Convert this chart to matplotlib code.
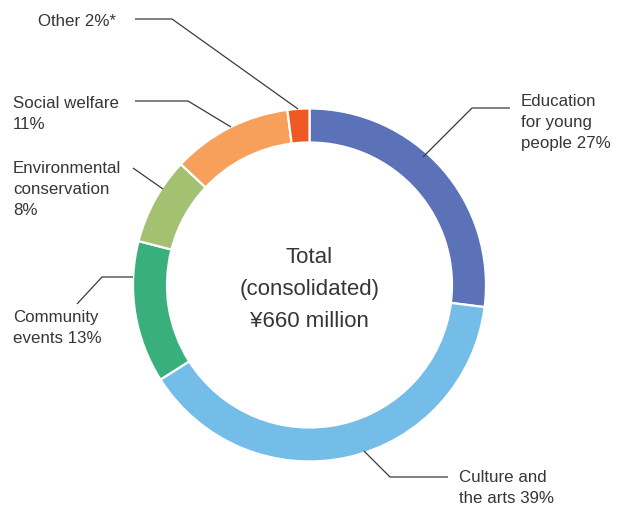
import matplotlib
matplotlib.use("Agg")
import matplotlib.pyplot as plt

# Donation breakdown (percent of total)
categories = ["Education\nfor young\npeople 27%", "Culture and\nthe arts 39%",
              "Community\nevents 13%", "Environmental\nconservation\n8%",
              "Social welfare\n11%", "Other 2%*"]
shares = [27, 39, 13, 8, 11, 2]
colors = ["#5B72B9", "#74BDE8", "#39B07C", "#A4C172", "#F6A05B", "#EF5A24"]
center_text = "Total\n(consolidated)\n¥660 million"

W, H = 627, 506
fig = plt.figure(figsize=(W / 100, H / 100), dpi=100)
ax = fig.add_axes([0, 0, 1, 1])

cx, cy, R = 309.5, H - 286, 176.5
ring = 34

ax.pie(shares, colors=colors, startangle=90, counterclock=False,
       center=(cx, cy), radius=R,
       wedgeprops=dict(width=ring, edgecolor="white", linewidth=1.6))

ax.set_xlim(0, W)
ax.set_ylim(0, H)
ax.set_aspect("equal")
ax.axis("off")

txt = "#363636"
font = "Liberation Sans"
fs = 12.2


def Y(y):
    return H - y


# leader lines (pixel coordinates, top-left origin)
leaders = [
    [(510, 109), (472, 109), (423, 158)],
    [(448, 478), (390, 478), (364, 452)],
    [(133, 278), (102, 278), (77, 305)],
    [(133, 169), (163, 190)],
    [(135, 102), (188, 102), (231, 128)],
    [(135, 20), (172, 20), (298, 110)],
]
for pts in leaders:
    ax.plot([p[0] for p in pts], [Y(p[1]) for p in pts], color="#3a3a3a",
            lw=0.9, solid_capstyle="butt")

# label anchors: (x, top y) in pixel coordinates
anchors = [(521, 94), (459, 470), (13, 310), (13, 161), (13, 96), (38, 14)]
for lab, (x, y) in zip(categories, anchors):
    ax.text(x, Y(y), lab, ha="left", va="top", fontsize=fs, color=txt,
            family=font, linespacing=1.5)

ax.text(cx, Y(289.5), center_text, ha="center", va="center", fontsize=16,
        color=txt, family=font, linespacing=1.68)

fig.savefig("out.png", dpi=100)
